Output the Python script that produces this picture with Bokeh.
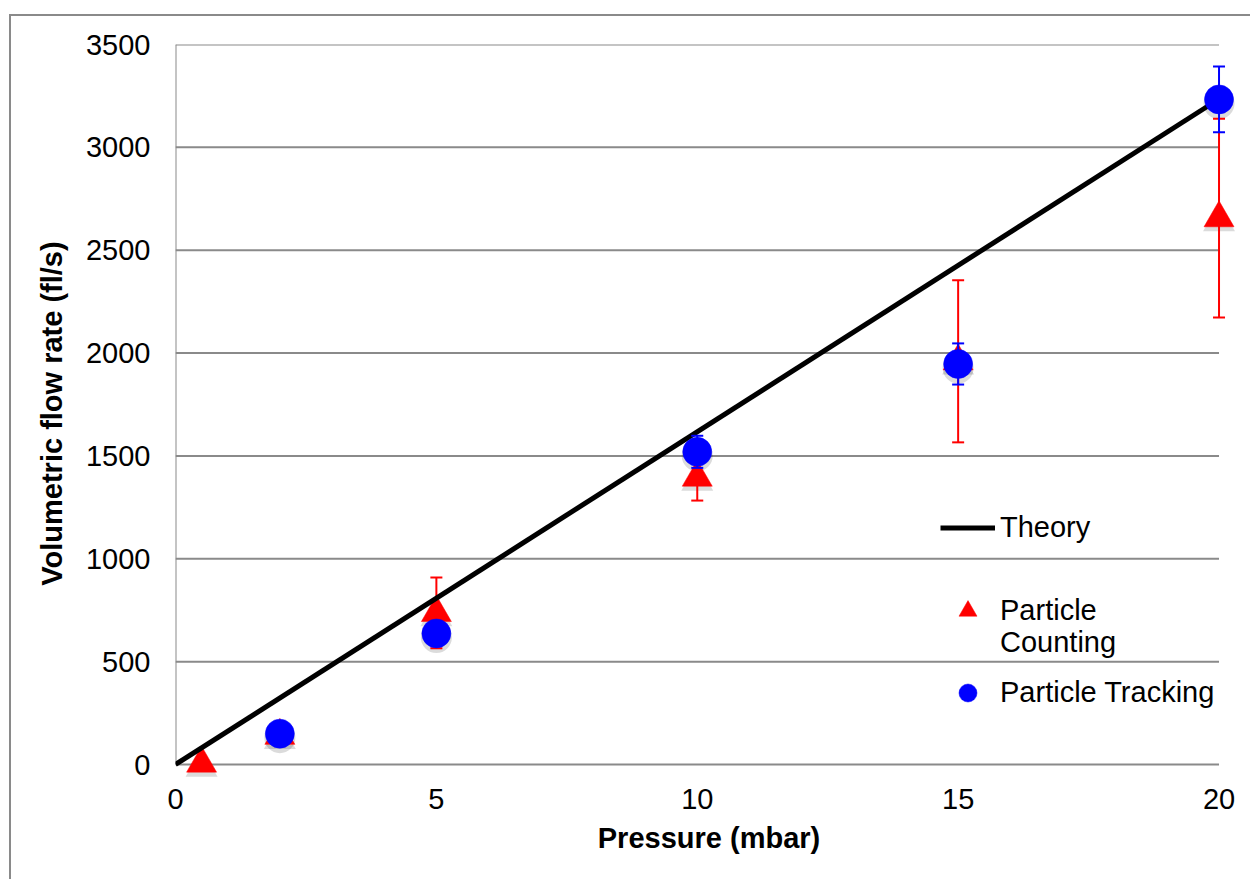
from bokeh.plotting import figure
from bokeh.models import Range1d, Legend, LegendItem, FixedTicker
from bokeh.embed import file_html
from bokeh.resources import INLINE

# ---------------- data ----------------
X_TICKS = [0, 5, 10, 15, 20]
Y_TICKS = [0, 500, 1000, 1500, 2000, 2500, 3000, 3500]

THEORY_P = [0, 20]
THEORY_Q = [0, 3235]

COUNT_P = [0.5, 2, 5, 10, 15, 20]
COUNT_Q = [5, 140, 737, 1395, 1960, 2656]
COUNT_ERR = [10, 15, 172, 112, 394, 483]

TRACK_P = [2, 5, 10, 15, 20]
TRACK_Q = [150, 637, 1520, 1947, 3233]
TRACK_ERR = [10, 10, 78, 100, 160]

FONT = "Liberation Sans"
FS = "29px"
GRID = "#8a8a8a"
RED = "#ff0000"
BLUE = "#0000ff"

p = figure(
    frame_width=1067, frame_height=738,
    min_border_left=164, min_border_right=8, min_border_top=28, min_border_bottom=97,
    x_range=Range1d(0, 20.45), y_range=Range1d(-87.5, 3500),
    output_backend="svg", toolbar_location=None,
)
p.margin = (14, 0, 0, 9)
p.styles = {"border-left": "2px solid #8a8a8a", "border-top": "2px solid #8a8a8a"}
p.outline_line_color = None
p.xgrid.visible = False
p.ygrid.visible = False
p.background_fill_color = "white"
p.border_fill_color = "white"

# gridlines and axis lines
n = len(Y_TICKS) - 1
p.segment(x0=[X_TICKS[0]] * n, x1=[X_TICKS[-1]] * n,
          y0=Y_TICKS[1:], y1=Y_TICKS[1:], line_color=GRID, line_width=2)
p.segment(x0=[X_TICKS[0]], x1=[X_TICKS[-1]], y0=[Y_TICKS[0]], y1=[Y_TICKS[0]],
          line_color=GRID, line_width=2)
p.segment(x0=[X_TICKS[0]], x1=[X_TICKS[0]], y0=[Y_TICKS[0]], y1=[Y_TICKS[-1]],
          line_color=GRID, line_width=2)

for ax in (p.xaxis[0], p.yaxis[0]):
    ax.axis_line_color = None
    ax.major_tick_line_color = None
    ax.minor_tick_line_color = None
    ax.major_tick_in = 0
    ax.major_tick_out = 0
    ax.minor_tick_in = 0
    ax.minor_tick_out = 0
    ax.major_label_text_font = FONT
    ax.major_label_text_font_size = FS
    ax.major_label_text_color = "black"
    ax.axis_label_text_font = FONT
    ax.axis_label_text_font_size = FS
    ax.axis_label_text_font_style = "bold"
    ax.axis_label_text_color = "black"

p.xaxis.ticker = FixedTicker(ticks=X_TICKS)
p.yaxis.ticker = FixedTicker(ticks=Y_TICKS)
p.xaxis.axis_label = "Pressure (mbar)"
p.yaxis.axis_label = "Volumetric flow rate (fl/s)"
p.xaxis.major_label_standoff = 6
p.xaxis.axis_label_standoff = 10
p.yaxis.major_label_standoff = 25
p.yaxis.axis_label_standoff = 15

# soft marker shadows (a few pixels below each marker)
SHADOW = 4 / 0.20571
p.scatter(COUNT_P, [q - SHADOW for q in COUNT_Q], marker="triangle", size=32,
          fill_color="black", fill_alpha=0.14, line_color=None)
p.scatter(TRACK_P, [q - SHADOW for q in TRACK_Q], marker="circle", size=31,
          fill_color="black", fill_alpha=0.14, line_color=None)

# Particle counting series
c_lo = [q - e for q, e in zip(COUNT_Q, COUNT_ERR)]
c_hi = [q + e for q, e in zip(COUNT_Q, COUNT_ERR)]
p.segment(x0=COUNT_P, x1=COUNT_P, y0=c_lo, y1=c_hi, line_color=RED, line_width=2)
p.scatter(COUNT_P, c_lo, marker="dash", size=12, line_color=RED, line_width=2)
p.scatter(COUNT_P, c_hi, marker="dash", size=12, line_color=RED, line_width=2)
r_count = p.scatter(COUNT_P, COUNT_Q, marker="triangle", size=30,
                    fill_color=RED, line_color=RED, line_width=0.5)

# Theory
r_theory = p.line(THEORY_P, THEORY_Q, line_color="black", line_width=5)

# Particle tracking series
t_lo = [q - e for q, e in zip(TRACK_Q, TRACK_ERR)]
t_hi = [q + e for q, e in zip(TRACK_Q, TRACK_ERR)]
p.segment(x0=TRACK_P, x1=TRACK_P, y0=t_lo, y1=t_hi, line_color=BLUE, line_width=2)
p.scatter(TRACK_P, t_lo, marker="dash", size=12, line_color=BLUE, line_width=2)
p.scatter(TRACK_P, t_hi, marker="dash", size=12, line_color=BLUE, line_width=2)
r_track = p.scatter(TRACK_P, TRACK_Q, marker="circle", size=29,
                    fill_color=BLUE, line_color=BLUE, line_width=0.5)

# invisible renderer for a legend line with no glyph
r_blank = p.scatter([], [], marker="circle", size=1, fill_alpha=0, line_alpha=0)


def make_legend(items, loc, gh):
    lg = Legend(items=items, location=loc, orientation="vertical",
                glyph_width=55, glyph_height=gh, label_standoff=5,
                padding=0, margin=0, spacing=0,
                border_line_color=None, background_fill_alpha=0,
                label_text_font=FONT, label_text_font_size=FS,
                label_text_color="black", label_height=20)
    p.add_layout(lg)


make_legend([LegendItem(label="Theory", renderers=[r_theory])], (765, 238), 31)
make_legend([LegendItem(label="Particle", renderers=[r_count])], (765, 149.5), 45)
make_legend([LegendItem(label="Counting", renderers=[r_blank])], (765, 123), 31)
make_legend([LegendItem(label="Particle Tracking", renderers=[r_track])], (765, 67), 45)

open("out.html", "w").write(file_html(p, INLINE))
